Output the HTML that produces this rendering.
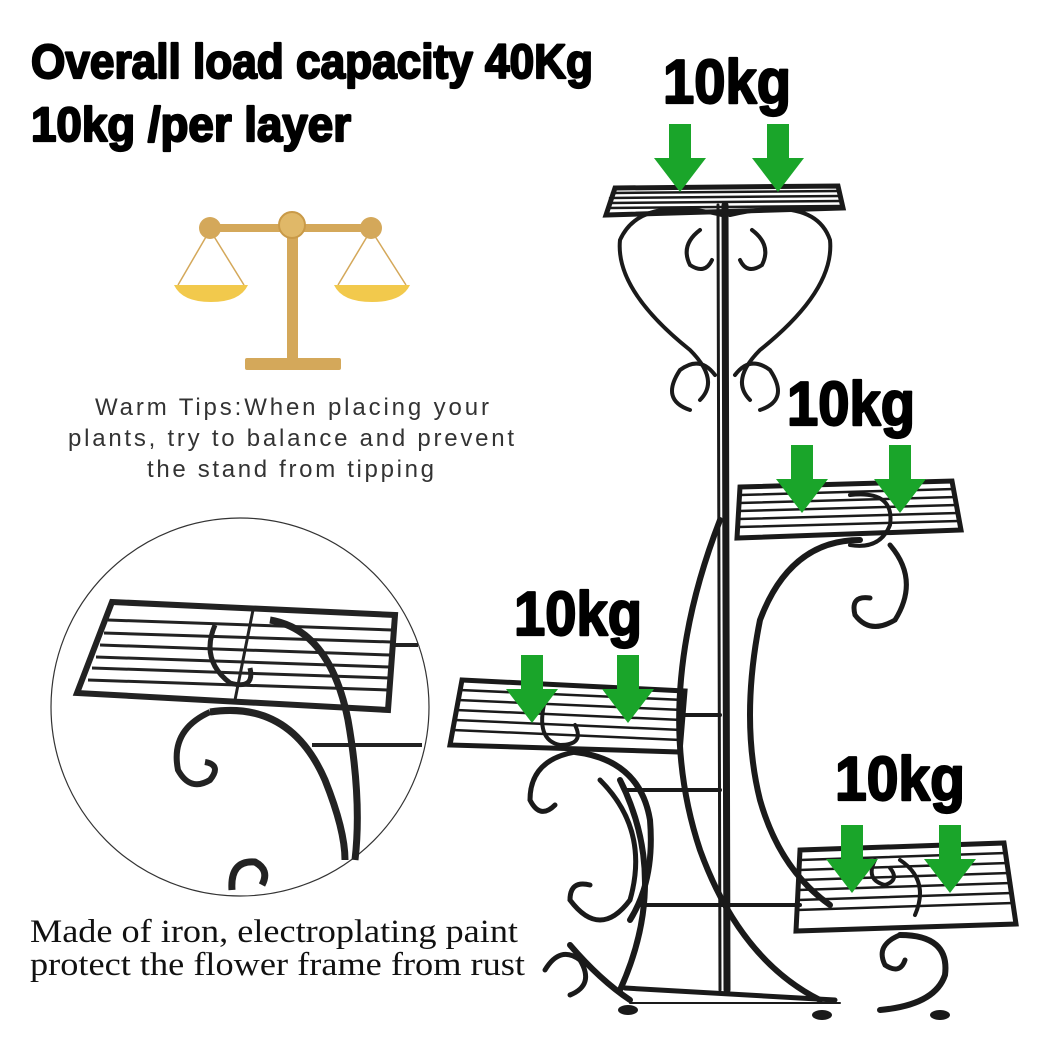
<!DOCTYPE html>
<html><head><meta charset="utf-8"><style>
html,body{margin:0;padding:0;background:#fff}
svg{display:block}
.b{font-family:"Liberation Sans Narrow","Liberation Sans",sans-serif;font-weight:bold;fill:#000;stroke:#000;stroke-width:2.2;stroke-linejoin:round}
.t{font-family:"Liberation Sans",sans-serif;font-size:24px;fill:#333}
.s{font-family:"Liberation Serif",serif;font-size:33px;fill:#111}
</style></head><body>
<svg width="1044" height="1044" viewBox="0 0 1044 1044" xmlns="http://www.w3.org/2000/svg">
<defs>
<g id="arr"><rect x="-11" y="0" width="22" height="36" fill="#1aa52a"/><polygon points="-26,34 26,34 0,68" fill="#1aa52a"/></g>
</defs>
<text class="b" x="31" y="78" font-size="48" textLength="562" lengthAdjust="spacingAndGlyphs">Overall load capacity 40Kg</text>
<text class="b" x="31" y="141" font-size="48" textLength="320" lengthAdjust="spacingAndGlyphs">10kg /per layer</text>

<!-- scale -->
<g fill="#d4a85a" stroke="none">
<rect x="287" y="225" width="11" height="135"/>
<rect x="245" y="358" width="96" height="12" rx="2"/>
<rect x="208" y="224" width="165" height="8"/>
<circle cx="292" cy="225" r="13" fill="#e0b868" stroke="#c99a48" stroke-width="2"/>
<circle cx="210" cy="228" r="11"/><circle cx="371" cy="228" r="11"/>
</g>
<g stroke="#d4a85a" stroke-width="1.5" fill="none">
<line x1="210" y1="230" x2="178" y2="285"/><line x1="210" y1="230" x2="244" y2="285"/>
<line x1="371" y1="230" x2="338" y2="285"/><line x1="371" y1="230" x2="406" y2="285"/>
</g>
<path d="M174 285 L248 285 Q240 302 211 302 Q182 302 174 285Z" fill="#f2c94c"/>
<path d="M334 285 L410 285 Q402 302 372 302 Q342 302 334 285Z" fill="#f2c94c"/>

<text class="t" x="95" y="415" textLength="394" lengthAdjust="spacing">Warm Tips:When placing your</text>
<text class="t" x="68" y="446" textLength="446" lengthAdjust="spacing">plants, try to balance and prevent</text>
<text class="t" x="147" y="477" textLength="287" lengthAdjust="spacing">the stand from tipping</text>

<!-- circle detail -->
<circle cx="240" cy="707" r="189" fill="#fff" stroke="#333" stroke-width="1.2"/>
<g stroke="#222" fill="none">
<polygon points="112,602 395,615 388,710 77,693" stroke-width="6"/>
<g stroke-width="3">
<line x1="108" y1="620" x2="392" y2="630"/><line x1="104" y1="633" x2="391" y2="642"/>
<line x1="100" y1="645" x2="390" y2="655"/><line x1="96" y1="657" x2="389" y2="667"/>
<line x1="92" y1="668" x2="389" y2="678"/><line x1="88" y1="680" x2="388" y2="690"/>
<line x1="253" y1="610" x2="235" y2="700"/>
</g>
<path d="M215 625 Q200 660 230 683 Q255 690 250 668" stroke-width="5"/>
<path d="M270 620 Q330 630 348 720 Q362 800 355 860" stroke-width="7"/>
<path d="M210 712 Q290 700 325 780 Q345 830 345 860" stroke-width="7"/>
<path d="M210 712 Q170 730 178 770 Q190 792 210 780 Q222 765 205 762" stroke-width="6"/>
<line x1="395" y1="645" x2="418" y2="645" stroke-width="4"/>
<line x1="312" y1="745" x2="422" y2="745" stroke-width="4"/>
<path d="M232 890 Q230 860 255 862 Q270 870 262 885" stroke-width="7"/>
</g>

<text class="s" x="30" y="942" textLength="488" lengthAdjust="spacingAndGlyphs">Made of iron, electroplating paint</text>
<text class="s" x="30" y="975" textLength="495" lengthAdjust="spacingAndGlyphs">protect the flower frame from rust</text>

<!-- stand -->
<g stroke="#1a1a1a" fill="none" stroke-linecap="round">
<line x1="725" y1="205" x2="727" y2="990" stroke-width="7"/>
<line x1="718" y1="205" x2="720" y2="990" stroke-width="3"/>
<path d="M722 215 Q640 195 620 240 Q615 290 690 350 Q720 380 700 400" stroke-width="4"/>
<path d="M730 215 Q815 195 830 240 Q835 290 760 350 Q730 380 750 400" stroke-width="4"/>
<path d="M690 410 Q660 400 680 370 Q700 355 715 375" stroke-width="4"/>
<path d="M760 410 Q790 400 770 370 Q750 355 735 375" stroke-width="4"/>
<path d="M700 230 Q680 245 690 265 Q705 275 712 260" stroke-width="4"/>
<path d="M752 230 Q772 245 762 265 Q747 275 740 260" stroke-width="4"/>
<polygon points="615,188 838,186 843,208 606,215" stroke-width="5"/>
<g stroke-width="2.5"><line x1="612" y1="193" x2="840" y2="191"/><line x1="610" y1="198" x2="841" y2="196"/><line x1="609" y1="203" x2="842" y2="201"/><line x1="608" y1="208" x2="842" y2="206"/></g>
<polygon points="740,487 952,481 961,530 737,538" stroke-width="5"/>
<g stroke-width="2.5"><line x1="740" y1="495" x2="954" y2="489"/><line x1="739" y1="503" x2="956" y2="497"/><line x1="739" y1="511" x2="957" y2="505"/><line x1="738" y1="519" x2="958" y2="513"/><line x1="738" y1="527" x2="959" y2="521"/></g>
<path d="M860 540 Q790 540 760 620 Q740 720 760 800 Q780 870 830 905" stroke-width="6"/>
<path d="M890 545 Q920 580 895 620 Q870 635 855 615 Q850 595 870 598" stroke-width="5"/>
<path d="M850 495 Q895 490 890 525 Q880 550 850 545" stroke-width="4"/>
<polygon points="462,680 685,691 680,752 450,745" stroke-width="5"/>
<g stroke-width="2.5"><line x1="460" y1="690" x2="684" y2="700"/><line x1="458" y1="700" x2="683" y2="710"/><line x1="456" y1="710" x2="682" y2="720"/><line x1="455" y1="720" x2="682" y2="730"/><line x1="453" y1="730" x2="681" y2="740"/></g>
<path d="M545 700 Q535 740 560 745 Q585 745 575 725" stroke-width="4"/>
<path d="M575 752 Q640 760 650 820 Q655 880 630 920" stroke-width="6"/>
<path d="M575 752 Q530 760 530 800 Q540 820 555 805" stroke-width="5"/>
<path d="M600 780 Q650 830 630 900 Q600 940 570 900 Q570 880 590 885" stroke-width="5"/>
<line x1="685" y1="715" x2="720" y2="715" stroke-width="4"/>
<line x1="625" y1="790" x2="720" y2="790" stroke-width="4"/>
<line x1="640" y1="905" x2="800" y2="905" stroke-width="4"/>
<path d="M620 780 Q670 880 620 990" stroke-width="6"/>
<path d="M720 520 Q650 700 700 850 Q740 960 820 1000" stroke-width="6"/>
<path d="M545 970 Q560 945 580 960 Q595 985 570 995" stroke-width="5"/>
<path d="M570 945 Q600 980 630 1000" stroke-width="6"/>
<polygon points="800,850 1004,843 1016,924 796,931" stroke-width="5"/>
<g stroke-width="2.5"><line x1="800" y1="860" x2="1006" y2="853"/><line x1="799" y1="870" x2="1008" y2="863"/><line x1="799" y1="880" x2="1009" y2="873"/><line x1="798" y1="890" x2="1011" y2="883"/><line x1="798" y1="900" x2="1012" y2="893"/><line x1="797" y1="910" x2="1013" y2="903"/></g>
<path d="M875 860 Q865 880 885 885 Q900 880 890 868" stroke-width="4"/>
<path d="M900 860 Q930 880 915 915" stroke-width="4"/>
<path d="M900 935 Q950 935 945 975 Q935 1005 880 1010" stroke-width="6"/>
<path d="M900 935 Q875 945 885 965 Q900 975 905 960" stroke-width="5"/>
<line x1="625" y1="988" x2="835" y2="1000" stroke-width="5"/>
<line x1="630" y1="1003" x2="840" y2="1003" stroke-width="2"/>
</g>
<g fill="#1a1a1a"><ellipse cx="628" cy="1010" rx="10" ry="5"/><ellipse cx="822" cy="1015" rx="10" ry="5"/><ellipse cx="940" cy="1015" rx="10" ry="5"/></g>

<text class="b" x="663" y="103" font-size="62" textLength="128" lengthAdjust="spacingAndGlyphs">10kg</text>
<text class="b" x="787" y="425" font-size="62" textLength="128" lengthAdjust="spacingAndGlyphs">10kg</text>
<text class="b" x="514" y="635" font-size="62" textLength="128" lengthAdjust="spacingAndGlyphs">10kg</text>
<text class="b" x="835" y="800" font-size="62" textLength="130" lengthAdjust="spacingAndGlyphs">10kg</text>
<use href="#arr" x="680" y="124"/><use href="#arr" x="778" y="124"/>
<use href="#arr" x="802" y="445"/><use href="#arr" x="900" y="445"/>
<use href="#arr" x="532" y="655"/><use href="#arr" x="628" y="655"/>
<use href="#arr" x="852" y="825"/><use href="#arr" x="950" y="825"/>
</svg>
</body></html>
